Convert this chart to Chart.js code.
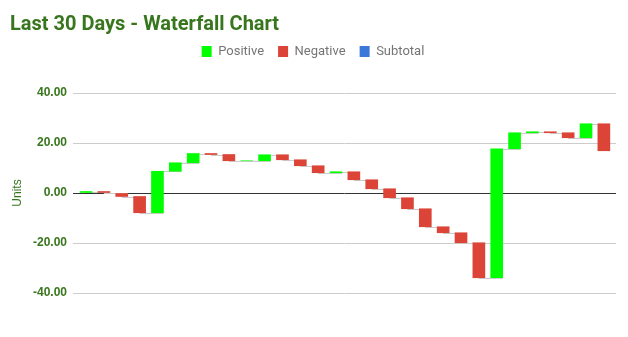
<!DOCTYPE html>
<html>
<head>
<meta charset="utf-8">
<script src="https://cdn.jsdelivr.net/npm/chart.js@4"></script>
<style>
  body { margin: 0; background: #fff; }
  #wrap { width: 628px; height: 337px; }
</style>
</head>
<body>
<div id="wrap"><canvas id="chart"></canvas></div>
<script>
// daily movement, one entry per day
const days = ['1', '2', '3', '4', '5', '6', '7', '8', '9', '10',
              '11', '12', '13', '14', '15', '16', '17', '18', '19', '20',
              '21', '22', '23', '24', '25', '26', '27', '28', '29', '30'];
const changes = [0.6, -0.6, -1.4, -6.5, 16.6, 3.4, 3.7, -0.4, -2.5, 0,
                 2.4, -2.0, -2.4, -2.8, 0.4, -3.2, -3.6, -3.6, -4.4, -7.2,
                 -2.4, -4.0, -14.0, 51.6, 6.4, 0.4, -0.4, -2.0, 5.6, -10.8];
const subtotalDays = [];
const yTicks = [-40, -20, 0, 20, 40];

const GREEN = '#00ff00';
const RED = '#db4437';
const BLUE = '#3c78d8';
const DARK_GREEN = '#38761d';

// running totals -> floating bar ranges
let running = 0;
const ranges = changes.map(c => {
    const from = running;
    running = +(running + c).toFixed(2);
    return [from, running];
});

const positive = [], negative = [], subtotal = [];
ranges.forEach((r, i) => {
    const isSub = subtotalDays.includes(days[i]);
    positive.push({ x: i, y: !isSub && changes[i] >= 0 ? r : null });
    negative.push({ x: i, y: !isSub && changes[i] < 0 ? r : null });
    subtotal.push({ x: i, y: isSub ? [0, r[1]] : null });
});

const BAR_W = 12;

// thin grey step lines between neighbouring bars
const connectors = {
    id: 'connectors',
    beforeDatasetsDraw(chart) {
        const { ctx, scales: { x, y } } = chart;
        ctx.save();
        ctx.strokeStyle = '#cccccc';
        ctx.lineWidth = 1;
        for (let i = 0; i < ranges.length - 1; i++) {
            const py = Math.round(y.getPixelForValue(ranges[i][1])) + 0.5;
            const x1 = x.getPixelForValue(i);
            const x2 = x.getPixelForValue(i + 1) + BAR_W / 2;
            ctx.beginPath();
            ctx.moveTo(x1, py);
            ctx.lineTo(x2, py);
            ctx.stroke();
        }
        ctx.restore();
    }
};

const barDefaults = { grouped: false, barThickness: BAR_W, borderWidth: 0, borderSkipped: false };

new Chart(document.getElementById('chart'), {
    type: 'bar',
    data: {
        datasets: [
            { label: 'Positive', data: positive, backgroundColor: GREEN, ...barDefaults },
            { label: 'Negative', data: negative, backgroundColor: RED, ...barDefaults },
            { label: 'Subtotal', data: subtotal, backgroundColor: BLUE, ...barDefaults }
        ]
    },
    plugins: [connectors],
    options: {
        responsive: true,
        maintainAspectRatio: false,
        animation: false,
        layout: { padding: { left: 10, right: 12, bottom: 44, top: 0 } },
        plugins: {
            title: {
                display: true,
                text: 'Last 30 Days - Waterfall Chart',
                align: 'start',
                color: DARK_GREEN,
                font: { family: 'Roboto', size: 20, weight: 'bold' },
                padding: { top: 13, bottom: -6 }
            },
            legend: {
                position: 'top',
                labels: {
                    boxWidth: 10,
                    boxHeight: 11,
                    padding: 14,
                    color: '#757575',
                    font: { family: 'Roboto', size: 13 }
                }
            },
            tooltip: { enabled: false }
        },
        scales: {
            x: {
                type: 'linear',
                position: 'top',
                offset: false,
                min: -0.73,
                max: 29.68,
                // empty strip between the legend and the plot
                afterFit(scale) { scale.height = 25; },
                ticks: { display: false },
                grid: { display: false },
                border: { display: false }
            },
            y: {
                min: -40,
                max: 40,
                afterFit(scale) { scale.width = 63; },
                afterBuildTicks(scale) { scale.ticks = yTicks.map(v => ({ value: v })); },
                border: { display: false },
                grid: {
                    drawTicks: false,
                    color: c => c.tick && c.tick.value === 0 ? '#333333' : '#cccccc'
                },
                ticks: {
                    padding: 6,
                    color: DARK_GREEN,
                    font: { family: 'Liberation Sans', size: 12, weight: 'bold' },
                    callback: v => v.toFixed(2)
                },
                title: {
                    display: true,
                    text: 'Units',
                    color: DARK_GREEN,
                    font: { family: 'Liberation Sans', size: 12 },
                    padding: 0
                }
            }
        }
    }
});
</script>
</body>
</html>
